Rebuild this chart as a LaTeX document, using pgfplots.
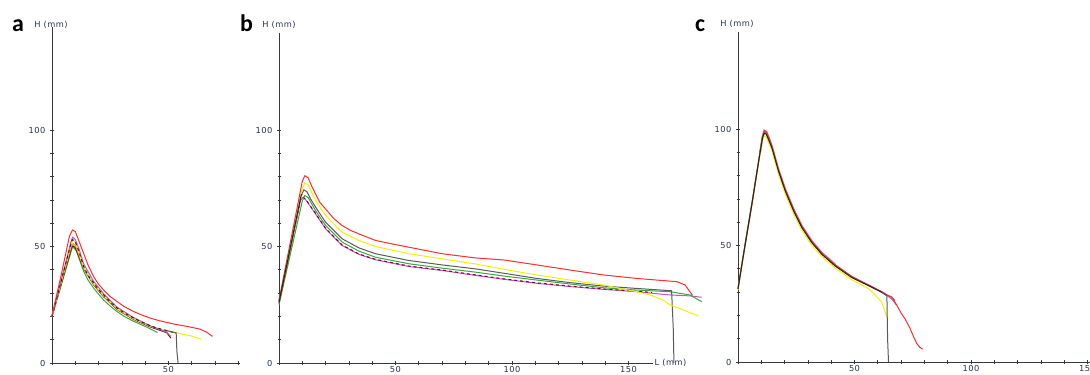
\documentclass[border=0pt]{standalone}
\usepackage{pgfplots}
\pgfplotsset{compat=1.18}
\usepackage{fontspec}
\newfontfamily\labfont[LetterSpace=6]{DejaVu Sans}
\newfontfamily\panfont{Carlito}
\definecolor{axc}{RGB}{55,55,60}
\definecolor{tlc}{RGB}{40,50,80}
\definecolor{redc}{RGB}{255,45,45}
\definecolor{yelc}{RGB}{245,240,0}
\definecolor{blkc}{RGB}{35,35,35}
\definecolor{grnc}{RGB}{60,165,60}
\definecolor{purc}{RGB}{185,85,205}
\definecolor{marc}{RGB}{125,0,40}
\definecolor{orac}{RGB}{230,150,0}
\definecolor{gryc}{RGB}{90,90,90}
\pgfplotsset{
  panel/.style={
    anchor=south west, x=2.33bp, y=2.33bp,
    xmin=0, ymin=0, enlargelimits=false,
    axis lines=left, axis line style={-, draw=axc, line width=0.9bp},
    tick style={draw=axc, line width=0.7bp},
    tick align=center, major tick length=4bp, minor tick length=3bp,
    xtick={0,50,100,150}, xticklabels={,50,100,150},
    ytick={0,50,100}, yticklabels={0,50,100},
    minor x tick num=4, minor y tick num=4,
    /pgf/number format/assume math mode=true,
    ticklabel style={font=\labfont\fontsize{8.3}{9}\selectfont, text=tlc},
    xticklabel style={inner sep=0.5bp, yshift=-1bp},
    yticklabel style={xshift=-1bp},
    scaled ticks=false, clip=false,
    every axis plot/.append style={line width=1bp, no markers},
  }
}
\begin{document}
\begin{tikzpicture}
\useasboundingbox (0,0) rectangle (1090bp,375bp);
\clip (0,0) rectangle (1090bp,375bp);
% ---------------- panel a
\begin{axis}[panel, at={(52bp,12bp)}, xmax=80.5, ymax=144]
\addplot[grnc] coordinates {(0,20) (8.6,49.2) (9.2,49.7) (10.5,48) (13.6,39.3) (15.5,35.5) (17.9,32.1) (20,29.5) (22.1,27.1) (25,24.4) (27.9,22.1) (31,20) (35,17.9) (40,15.7) (45.3,13.1)};
\addplot[marc] coordinates {(0,20) (8.4,49.5) (9,50.3) (10,49.5) (13.6,40.5) (17.9,33.5) (22.1,28.5) (27.9,23) (35,18.7) (42.1,15.5) (49.3,13) (51,10.7)};
\addplot[orac] coordinates {(0,20) (8.4,50.5) (9,51.2) (10,50.5) (13.6,40.8) (17.9,33.8) (22.1,28.8) (27.9,23.2) (35,19) (42.1,15.8) (49.3,13.7) (53,13)};
\addplot[yelc] coordinates {(0,20) (8.5,52) (9,52.6) (10,52) (13.6,41) (17.9,34) (22.1,29) (27.9,23.3) (35,19) (42.1,15.8) (49.3,13.7) (53.6,12.9) (56.5,12.3) (59.3,11.7) (63.9,10.3)};
\addplot[purc] coordinates {(0,20) (8.4,53) (8.9,54) (10,53) (11.5,49.2) (13.6,42.5) (17.9,35) (22.1,29.8) (27.9,24) (35,19.5) (42.1,16) (49.3,13.2) (51,11.4)};
\addplot[blkc, dashed] coordinates {(0,20) (8.3,51.8) (8.8,52.9) (9.8,52.5) (11.5,48) (13.6,41.4) (15.5,37.5) (17.9,34.3) (20,31.5) (22.1,29.3) (25,26.2) (27.9,23.6) (31,21.5) (35,19.3) (38.5,17.6) (42.1,16) (45.5,14.9) (49.3,13.9) (53.3,12.9)};
\addplot[gryc] coordinates {(49.3,13.9) (53.3,12.9) (53.6,5) (54.1,0)};
\addplot[redc] coordinates {(0,20.5) (4,38) (7.5,54.5) (8.8,57.1) (10,56.5) (11.5,52.5) (13.6,47) (15.5,42) (17.9,37) (20,33.8) (22.1,31.4) (25,28.5) (27.9,26.4) (31,24.2) (35,22.1) (38.5,20.6) (42.1,19.3) (45.5,18.3) (49.3,17.4) (53,16.6) (56.4,16) (60,15.3) (63.6,14.5) (66.4,13.2) (68.9,11.4)};
\end{axis}
% ---------------- panel b
\begin{axis}[panel, at={(279bp,12bp)}, xmax=160.7, ymax=141.5]
\addplot[purc] coordinates {(0,26) (9.3,70) (10.3,71.1) (11.5,70) (15.7,64) (20,57.6) (27.1,50.4) (34.3,46.6) (41.4,44.3) (55.7,41.4) (70,39.7) (84.3,37.6) (96.6,35.9) (110.6,34.2) (124.9,32.8) (139.2,31.6) (153.5,30.6) (167.8,29.2) (176.4,28.8) (181.4,28.2)};
\addplot[marc, dashed] coordinates {(0,26.5) (9.3,70.2) (10.3,71.3) (11.5,70.2) (15.7,64.2) (20,57.8) (27.1,50.6) (34.3,46.8) (41.4,44.5) (55.7,41.6) (70,39.9) (84.3,37.8) (96.6,36.1) (110.6,34.4) (124.9,33) (139.2,31.8) (153.5,30.8) (160,30.3)};
\addplot[grnc] coordinates {(0,25) (10,69.5) (11.1,71.9) (12.5,71) (15.7,65.4) (20,59) (27.1,51.9) (34.3,48) (41.4,45.4) (55.7,42.6) (70,40.7) (84.3,39) (96.6,37.3) (110.6,35.6) (124.9,33.9) (139.2,32.3) (153.5,31.3) (167.8,30.6) (176.4,29.2) (181.4,26.3)};
\addplot[gryc] coordinates {(0,25.5) (9.5,72) (10.7,74.3) (12,73.5) (13.5,70.5) (15.7,66.9) (20,60.4) (27.1,53.3) (34.3,49.4) (41.4,46.9) (55.7,44) (70,42.1) (84.3,40.4) (96.6,38.5) (110.6,36.3) (124.9,34.5) (139.2,33) (153.5,32) (168.5,31) (169.2,15) (169.5,0)};
\addplot[yelc] coordinates {(0,26.5) (10,75) (11.1,77.3) (12.5,76.5) (15.7,69.7) (20,63.3) (27.1,56.1) (34.3,52.6) (41.4,50) (55.7,46.9) (70,44.7) (84.3,42.5) (96.6,40.2) (110.6,37.8) (124.9,35.6) (139.2,33.5) (146.3,32) (153.5,30.6) (159.2,29.2) (164.9,27) (167.8,24.9) (170.7,23.9) (176.4,21.6) (180,20.2)};
\addplot[redc] coordinates {(0,27) (10,78) (11.1,80.4) (12.5,79.5) (14,76) (15.7,72.6) (17.5,69) (20,66.1) (23.5,62) (27.1,59) (30.5,57) (34.3,55.4) (41.4,52.6) (48.6,51.1) (55.7,49.7) (62.9,48.3) (70,46.9) (84.3,45.1) (96.6,44.2) (110.6,42.1) (124.9,39.9) (139.2,37.8) (153.5,36.3) (170.7,34.9) (174.3,33.5) (176.4,30.5) (177.5,29)};
\addplot[blkc] coordinates {(0,26) (9.5,72) (10,72.5)};
\node[anchor=west, inner sep=1bp, font=\labfont\fontsize{8.3}{9}\selectfont, text=tlc] at (axis cs:160.7,0) {L (mm)};
\end{axis}
% ---------------- panel c
\begin{axis}[panel, at={(738bp,13bp)}, xmax=160, ymax=141.5]
\addplot[marc, line width=2bp, opacity=0.5] coordinates {(9.5,90) (10.5,96.5) (11.3,99.3) (12.2,98.8) (13.2,96.3) (14.6,92.4) (16,87.3) (17.4,82.4) (20.3,74) (23.9,65.4) (27.4,58.3) (31.7,51.8) (36,46.8) (41.7,41.8)};
\addplot[purc] coordinates {(0,31.4) (3,50) (6,68) (9,87) (10.5,96.2) (11.3,98.5) (12.2,98) (13.2,95.8) (14.6,92) (16,87) (17.4,82) (20.3,73.5) (23.9,65) (27.4,57.9) (31.7,51.4) (36,46.4) (41.7,41.4) (48.9,36.4) (56,32.9) (61.7,30) (63.9,28.6) (66,27) (68.1,24.3)};
\addplot[grnc] coordinates {(0,32) (3,50.5) (6,68.5) (9,87.5) (10.5,96.3) (11.3,98.5) (12.2,98) (13.2,95.8) (14.6,92) (16,87) (17.4,82) (20.3,73.5) (23.9,65) (27.4,57.9) (31.7,51.4) (36,46.4) (41.7,41.4) (48.9,36.4) (56,32.9) (61.7,30) (63.9,28.6) (66,27.8) (67.4,26.4)};
\addplot[yelc] coordinates {(0,31) (3,49.5) (6,67.5) (9,86.5) (10.5,95) (11.2,97.1) (12.2,96.5) (13.2,94) (14.6,90.5) (17.4,80.5) (20.3,72) (23.9,63.5) (27.4,56.5) (31.7,50) (36,45.2) (41.7,40.3) (48.9,35.3) (56,31.5) (58.1,29.6) (61.7,25.7) (63.9,19.3)};
\addplot[redc] coordinates {(0,31.4) (3,50) (6,68) (9,87) (10.5,96.5) (11.3,99.3) (12.2,98.8) (13.2,96.3) (14.6,92.4) (16,87.3) (17.4,82.4) (20.3,74) (23.9,65.4) (27.4,58.3) (31.7,51.8) (36,46.8) (41.7,41.8) (48.9,36.7) (56,33.1) (61.7,30.2) (64,28.8) (66,27.9) (68.1,24.5) (70,21) (71.7,18.5) (73.8,14.5) (75.5,10.5) (76.7,8) (78,6.3) (79.3,5.5)};
\addplot[blkc] coordinates {(0,31.4) (3,50) (6,68) (9,87) (10.5,96) (11.2,98.2) (12.1,97.8) (13.1,95.5) (14.6,91.8) (16,86.8) (17.4,81.9) (20.3,73.4) (23.9,64.8) (27.4,57.7) (31.7,51.2) (36,46.2) (41.7,41.2) (48.9,36.2) (56,32.8) (61.7,29.9) (63.9,28.5)};
\addplot[gryc] coordinates {(61.7,29.9) (63.9,28.5) (64.2,10) (64.6,0)};
\end{axis}
% ---------------- labels
\node[font=\labfont\fontsize{8.3}{9}\selectfont, text=tlc, inner sep=0] at (51bp,350bp) {H (mm)};
\node[font=\labfont\fontsize{8.3}{9}\selectfont, text=tlc, inner sep=0] at (279bp,350bp) {H (mm)};
\node[font=\labfont\fontsize{8.3}{9}\selectfont, text=tlc, inner sep=0] at (737bp,351bp) {H (mm)};
\node[anchor=base west, inner sep=0, font=\panfont\bfseries\fontsize{24}{24}\selectfont] at (12bp,343bp) {a};
\node[anchor=base west, inner sep=0, font=\panfont\bfseries\fontsize{24}{24}\selectfont] at (240bp,343bp) {b};
\node[anchor=base west, inner sep=0, font=\panfont\bfseries\fontsize{24}{24}\selectfont] at (695bp,343bp) {c};
\end{tikzpicture}
\end{document}
